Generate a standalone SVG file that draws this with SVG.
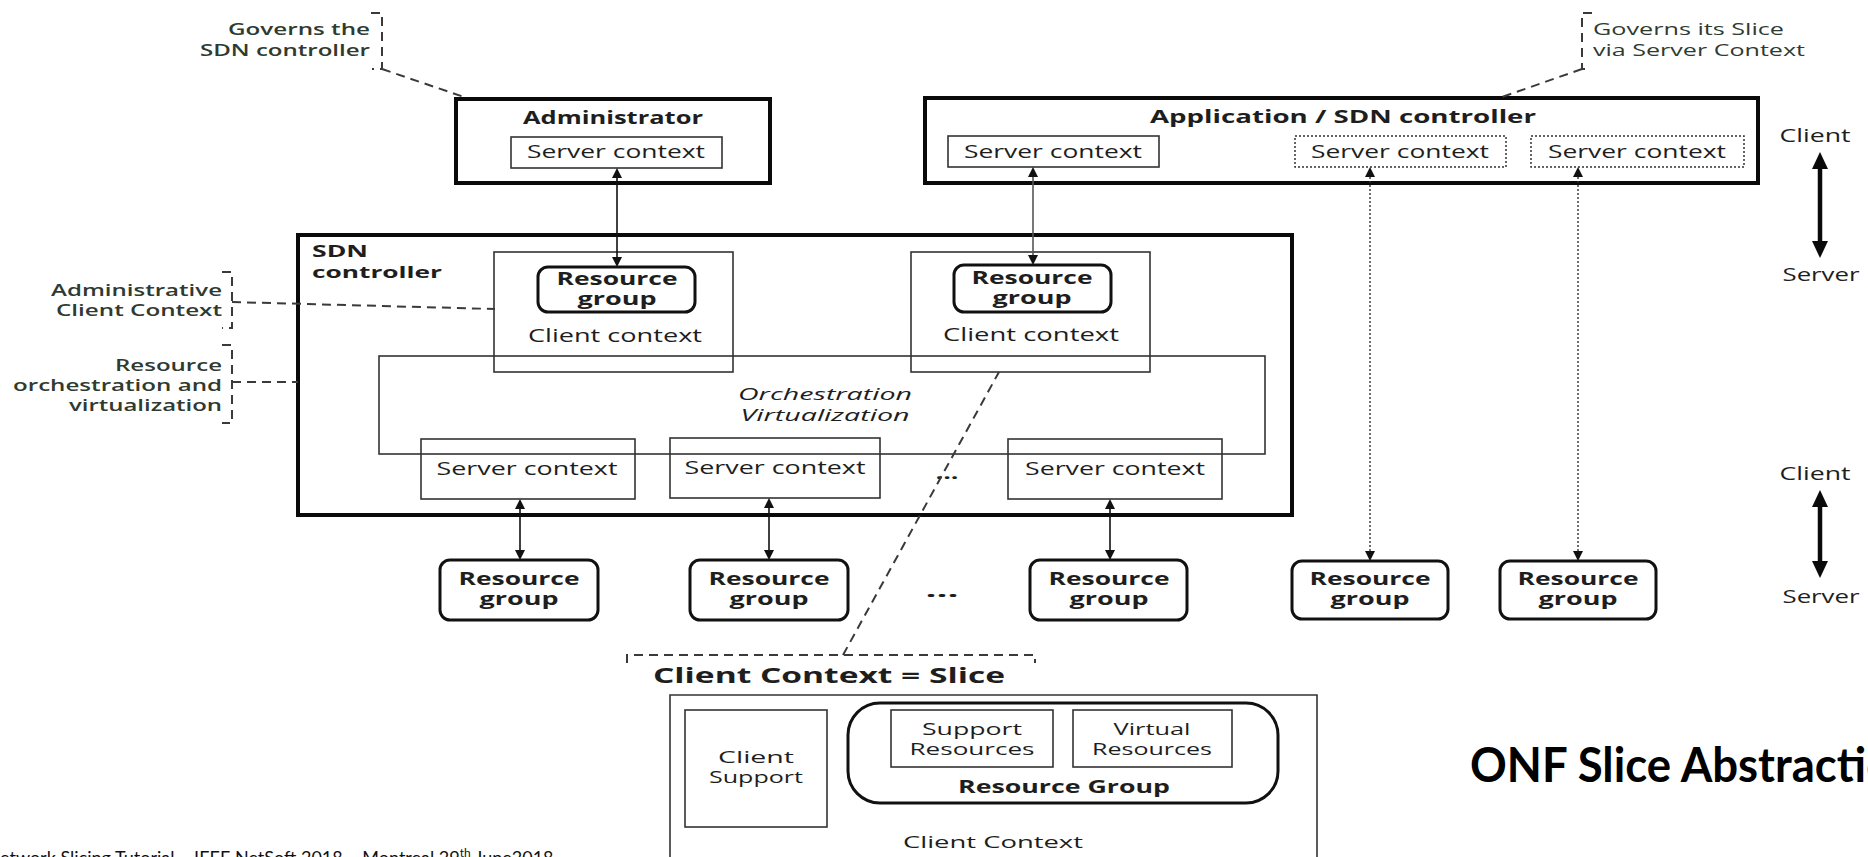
<svg xmlns="http://www.w3.org/2000/svg" width="1868" height="857" viewBox="0 0 1868 857">
<defs>
<style>
.t{font-family:"Open Sans","Noto Sans","DejaVu Sans",sans-serif;fill:#1e1e1e}
.b{font-weight:700}
.ann{font-family:"Open Sans","Noto Sans","DejaVu Sans",sans-serif;font-weight:600;font-size:16px;fill:#2f3a31}
.annr{font-family:"Open Sans","Noto Sans","DejaVu Sans",sans-serif;font-weight:400;font-size:16px;fill:#2f3a31}
.thick{fill:none;stroke:#0a0a0a;stroke-width:4}
.thin{fill:none;stroke:#333;stroke-width:1.6}
.dotbox{fill:none;stroke:#333;stroke-width:1.5;stroke-dasharray:2 2}
.rg{fill:#fff;stroke:#111;stroke-width:3}
.rgi{fill:none;stroke:#111;stroke-width:3}
.dash{fill:none;stroke:#3a3a3a;stroke-width:2;stroke-dasharray:9 6}
.arr{stroke:#111;stroke-width:1.6;marker-start:url(#ah);marker-end:url(#ah)}
.arrg{stroke:#555;stroke-width:1.6;marker-start:url(#ah);marker-end:url(#ah)}
.dotarr{stroke:#333;stroke-width:1.4;stroke-dasharray:2 2;marker-start:url(#ah);marker-end:url(#ah)}
.big{stroke:#0a0a0a;stroke-width:4.5;marker-start:url(#ahb);marker-end:url(#ahb)}
</style>
<marker id="ah" viewBox="0 0 10 10" refX="0" refY="5" markerWidth="10" markerHeight="10" markerUnits="userSpaceOnUse" orient="auto-start-reverse" preserveAspectRatio="none"><path d="M0,0 L10,5 L0,10 z" fill="#111"/></marker>
<marker id="ahb" viewBox="0 0 10 10" refX="0" refY="5" markerWidth="17" markerHeight="16" markerUnits="userSpaceOnUse" orient="auto-start-reverse" preserveAspectRatio="none"><path d="M0,0 L10,5 L0,10 z" fill="#0a0a0a"/></marker>
</defs>
<rect x="0" y="0" width="1868" height="857" fill="#fff"/>

<!-- annotations -->
<g id="ann-governs-sdn">
<text class="ann" x="370" y="35" text-anchor="end" textLength="142" lengthAdjust="spacingAndGlyphs">Governs the</text>
<text class="ann" x="370" y="56" text-anchor="end" textLength="170" lengthAdjust="spacingAndGlyphs">SDN controller</text>
</g>
<g id="ann-governs-slice">
<text class="annr" x="1593" y="35" textLength="191" lengthAdjust="spacingAndGlyphs">Governs its Slice</text>
<text class="annr" x="1593" y="56" textLength="212" lengthAdjust="spacingAndGlyphs">via Server Context</text>
</g>
<g id="ann-admin-cc">
<text class="ann" x="222" y="296" text-anchor="end" textLength="171" lengthAdjust="spacingAndGlyphs">Administrative</text>
<text class="ann" x="222" y="316" text-anchor="end" textLength="166" lengthAdjust="spacingAndGlyphs">Client Context</text>
</g>
<g id="ann-orch">
<text class="ann" x="222" y="371" text-anchor="end" textLength="107" lengthAdjust="spacingAndGlyphs">Resource</text>
<text class="ann" x="222" y="391" text-anchor="end" textLength="209" lengthAdjust="spacingAndGlyphs">orchestration and</text>
<text class="ann" x="222" y="411" text-anchor="end" textLength="153" lengthAdjust="spacingAndGlyphs">virtualization</text>
</g>

<!-- Administrator -->
<g id="administrator">
<rect class="thick" x="456" y="99" width="314" height="84"/>
<text class="t b" x="613" y="124" font-size="17" text-anchor="middle" textLength="180" lengthAdjust="spacingAndGlyphs">Administrator</text>
<rect class="thin" x="511" y="137" width="211" height="31"/>
<text class="t" x="616" y="158" font-size="19" text-anchor="middle" textLength="178" lengthAdjust="spacingAndGlyphs">Server context</text>
</g>

<!-- Application / SDN controller -->
<g id="app-controller">
<rect class="thick" x="925" y="98" width="833" height="85"/>
<text class="t b" x="1343" y="123" font-size="17" text-anchor="middle" textLength="386" lengthAdjust="spacingAndGlyphs">Application / SDN controller</text>
<rect class="thin" x="948" y="136" width="211" height="31"/>
<text class="t" x="1053" y="158" font-size="19" text-anchor="middle" textLength="178" lengthAdjust="spacingAndGlyphs">Server context</text>
<rect class="dotbox" x="1295" y="136" width="211" height="31"/>
<text class="t" x="1400" y="158" font-size="19" text-anchor="middle" textLength="178" lengthAdjust="spacingAndGlyphs">Server context</text>
<rect class="dotbox" x="1531" y="136" width="213" height="31"/>
<text class="t" x="1637" y="158" font-size="19" text-anchor="middle" textLength="178" lengthAdjust="spacingAndGlyphs">Server context</text>
</g>

<!-- SDN controller -->
<g id="sdn-controller">
<rect class="thick" x="298" y="235" width="994" height="280"/>
<text class="t b" x="312" y="257" font-size="16.5" textLength="56" lengthAdjust="spacingAndGlyphs">SDN</text>
<text class="t b" x="312" y="278" font-size="16.5" textLength="130" lengthAdjust="spacingAndGlyphs">controller</text>
</g>
<g id="orchestration">
<rect class="thin" x="379" y="356" width="886" height="98"/>
<text class="t" x="825" y="400" font-size="16.5" font-style="italic" text-anchor="middle" textLength="174" lengthAdjust="spacingAndGlyphs" fill="#2b3540">Orchestration</text>
<text class="t" x="825" y="421" font-size="16.5" font-style="italic" text-anchor="middle" textLength="169" lengthAdjust="spacingAndGlyphs" fill="#2b3540">Virtualization</text>
</g>
<g id="client-context-1">
<rect class="thin" x="494" y="252" width="239" height="120"/>
<rect class="rgi" x="538" y="267" width="157" height="45" rx="10"/>
<text class="t b" x="617" y="285" font-size="17" text-anchor="middle" textLength="121" lengthAdjust="spacingAndGlyphs">Resource</text>
<text class="t b" x="617" y="305" font-size="17" text-anchor="middle" textLength="79" lengthAdjust="spacingAndGlyphs">group</text>
<text class="t" x="615" y="342" font-size="19" text-anchor="middle" textLength="174" lengthAdjust="spacingAndGlyphs">Client context</text>
</g>
<g id="client-context-2">
<rect class="thin" x="911" y="252" width="239" height="120"/>
<rect class="rgi" x="954" y="265" width="157" height="47" rx="10"/>
<text class="t b" x="1032" y="284" font-size="17" text-anchor="middle" textLength="121" lengthAdjust="spacingAndGlyphs">Resource</text>
<text class="t b" x="1032" y="304" font-size="17" text-anchor="middle" textLength="79" lengthAdjust="spacingAndGlyphs">group</text>
<text class="t" x="1031" y="341" font-size="19" text-anchor="middle" textLength="176" lengthAdjust="spacingAndGlyphs">Client context</text>
</g>
<g id="server-context-1">
<rect class="thin" x="421" y="439" width="214" height="60"/>
<text class="t" x="527" y="475" font-size="19" text-anchor="middle" textLength="181" lengthAdjust="spacingAndGlyphs">Server context</text>
</g>
<g id="server-context-2">
<rect class="thin" x="670" y="438" width="210" height="60"/>
<text class="t" x="775" y="474" font-size="19" text-anchor="middle" textLength="181" lengthAdjust="spacingAndGlyphs">Server context</text>
</g>
<g id="server-context-3">
<rect class="thin" x="1008" y="439" width="214" height="60"/>
<text class="t" x="1115" y="475" font-size="19" text-anchor="middle" textLength="180" lengthAdjust="spacingAndGlyphs">Server context</text>
</g>
<text class="t b" x="947" y="479" font-size="16" text-anchor="middle" textLength="23" lengthAdjust="spacingAndGlyphs">...</text>

<!-- bottom resource groups -->
<g id="rg-1">
<rect class="rg" x="440" y="560" width="158" height="60" rx="10"/>
<text class="t b" x="519" y="585" font-size="17" text-anchor="middle" textLength="121" lengthAdjust="spacingAndGlyphs">Resource</text>
<text class="t b" x="519" y="605" font-size="17" text-anchor="middle" textLength="79" lengthAdjust="spacingAndGlyphs">group</text>
</g>
<g id="rg-2">
<rect class="rg" x="690" y="560" width="158" height="60" rx="10"/>
<text class="t b" x="769" y="585" font-size="17" text-anchor="middle" textLength="121" lengthAdjust="spacingAndGlyphs">Resource</text>
<text class="t b" x="769" y="605" font-size="17" text-anchor="middle" textLength="79" lengthAdjust="spacingAndGlyphs">group</text>
</g>
<text class="t b" x="942" y="597" font-size="18" text-anchor="middle" textLength="33" lengthAdjust="spacingAndGlyphs">...</text>
<g id="rg-3">
<rect class="rg" x="1030" y="560" width="157" height="60" rx="10"/>
<text class="t b" x="1109" y="585" font-size="17" text-anchor="middle" textLength="121" lengthAdjust="spacingAndGlyphs">Resource</text>
<text class="t b" x="1109" y="605" font-size="17" text-anchor="middle" textLength="79" lengthAdjust="spacingAndGlyphs">group</text>
</g>
<g id="rg-4">
<rect class="rg" x="1292" y="561" width="156" height="58" rx="10"/>
<text class="t b" x="1370" y="585" font-size="17" text-anchor="middle" textLength="121" lengthAdjust="spacingAndGlyphs">Resource</text>
<text class="t b" x="1370" y="605" font-size="17" text-anchor="middle" textLength="79" lengthAdjust="spacingAndGlyphs">group</text>
</g>
<g id="rg-5">
<rect class="rg" x="1500" y="561" width="156" height="58" rx="10"/>
<text class="t b" x="1578" y="585" font-size="17" text-anchor="middle" textLength="121" lengthAdjust="spacingAndGlyphs">Resource</text>
<text class="t b" x="1578" y="605" font-size="17" text-anchor="middle" textLength="79" lengthAdjust="spacingAndGlyphs">group</text>
</g>

<!-- client / server labels -->
<g id="cs-top">
<text class="t" x="1815" y="142" font-size="18" text-anchor="middle" textLength="71" lengthAdjust="spacingAndGlyphs">Client</text>
<text class="t" x="1821" y="281" font-size="18" text-anchor="middle" textLength="77" lengthAdjust="spacingAndGlyphs">Server</text>
</g>
<g id="cs-bottom">
<text class="t" x="1815" y="480" font-size="18" text-anchor="middle" textLength="71" lengthAdjust="spacingAndGlyphs">Client</text>
<text class="t" x="1821" y="603" font-size="18" text-anchor="middle" textLength="77" lengthAdjust="spacingAndGlyphs">Server</text>
</g>

<!-- slice detail -->
<g id="slice">
<text class="t b" x="653" y="683" font-size="22" textLength="352" lengthAdjust="spacingAndGlyphs">Client Context = Slice</text>
<path class="thin" d="M670,870 V695 H1317 V870"/>
<rect class="thin" x="685" y="710" width="142" height="117"/>
<text class="t" x="756" y="763" font-size="16" text-anchor="middle" textLength="76" lengthAdjust="spacingAndGlyphs">Client</text>
<text class="t" x="756" y="783" font-size="16" text-anchor="middle" textLength="94" lengthAdjust="spacingAndGlyphs">Support</text>
<rect class="rgi" x="848" y="703" width="430" height="100" rx="32"/>
<rect class="thin" x="891" y="710" width="162" height="57"/>
<text class="t" x="972" y="735" font-size="16" text-anchor="middle" textLength="100" lengthAdjust="spacingAndGlyphs">Support</text>
<text class="t" x="972" y="755" font-size="16" text-anchor="middle" textLength="125" lengthAdjust="spacingAndGlyphs">Resources</text>
<rect class="thin" x="1073" y="710" width="159" height="57"/>
<text class="t" x="1152" y="735" font-size="16" text-anchor="middle" textLength="77" lengthAdjust="spacingAndGlyphs">Virtual</text>
<text class="t" x="1152" y="755" font-size="16" text-anchor="middle" textLength="120" lengthAdjust="spacingAndGlyphs">Resources</text>
<text class="t b" x="1064" y="793" font-size="17" text-anchor="middle" textLength="212" lengthAdjust="spacingAndGlyphs">Resource Group</text>
<text class="t" x="993" y="848" font-size="17" text-anchor="middle" textLength="180" lengthAdjust="spacingAndGlyphs">Client Context</text>
</g>

<!-- connectors -->
<g id="connectors">
<path class="dash" d="M371,13 H382 V69 H372 M382,69 L467,98"/>
<path class="dash" d="M1592,13 H1582 V69 H1590 M1582,69 L1502,97"/>
<path class="dash" d="M222,272 H232 V328 H222 M232,302 L495,309"/>
<path class="dash" d="M222,345 H232 V423 H222 M232,382 H298"/>
<path class="dash" d="M627,663 V655 H1035 V663 M843,655 L999,372"/>
<line class="arr" x1="617" y1="178" x2="617" y2="257"/>
<line class="arrg" x1="1033" y1="177" x2="1033" y2="255"/>
<line class="dotarr" x1="1370" y1="177" x2="1370" y2="551"/>
<line class="dotarr" x1="1578" y1="177" x2="1578" y2="551"/>
<line class="arr" x1="520" y1="509" x2="520" y2="550"/>
<line class="arr" x1="769" y1="508" x2="769" y2="550"/>
<line class="arr" x1="1110" y1="509" x2="1110" y2="550"/>
<line class="big" x1="1820" y1="169" x2="1820" y2="241"/>
<line class="big" x1="1820" y1="507" x2="1820" y2="561"/>
</g>

<!-- slide texts -->
<text x="1470" y="782" font-family="Lato,'Liberation Sans',sans-serif" font-weight="700" font-size="48" fill="#000" textLength="448" lengthAdjust="spacingAndGlyphs">ONF Slice Abstraction</text>
<text x="0" y="864" font-family="Lato,'Liberation Sans',sans-serif" font-size="18" fill="#111">etwork Slicing Tutorial – IEEE NetSoft 2018 – Montreal 29<tspan font-size="12" dy="-7">th</tspan><tspan dy="7"> June2018</tspan></text>
</svg>
